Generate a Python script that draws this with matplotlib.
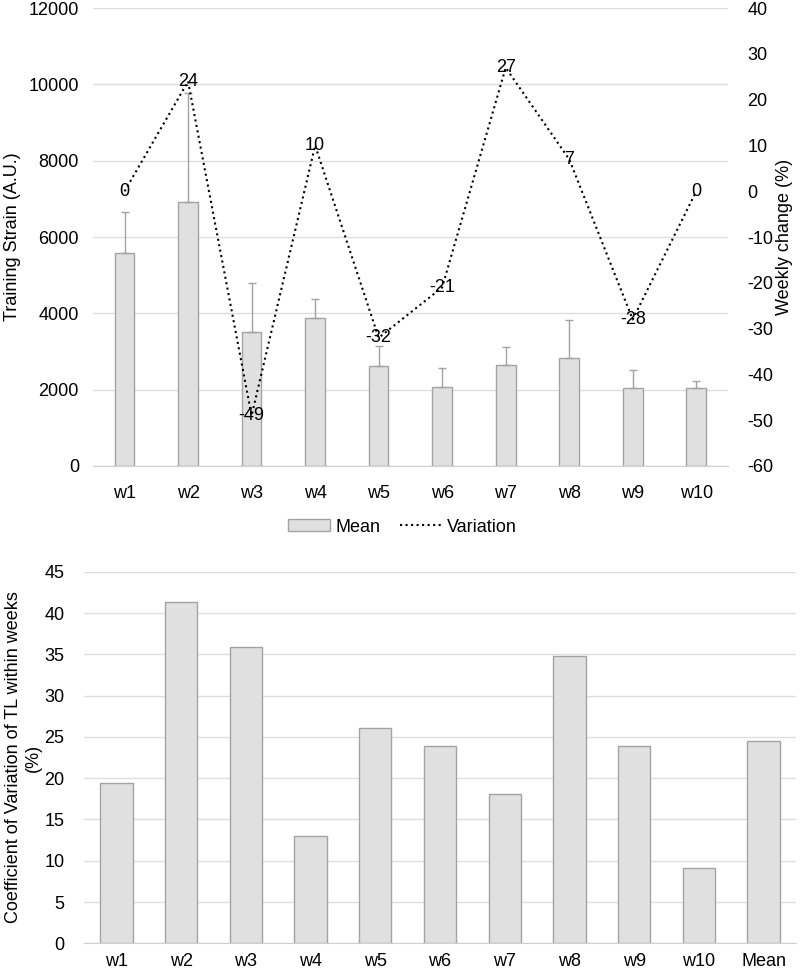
import matplotlib.pyplot as plt
import numpy as np

plt.rcParams['font.family'] = ['Liberation Sans', 'DejaVu Sans']
plt.rcParams['axes.unicode_minus'] = False

weeks = ['w1', 'w2', 'w3', 'w4', 'w5', 'w6', 'w7', 'w8', 'w9', 'w10']
strain_mean = [5580, 6920, 3520, 3870, 2630, 2080, 2650, 2820, 2040, 2040]
strain_sd = [1075, 2845, 1265, 500, 520, 490, 480, 1005, 480, 190]
variation = [0, 24, -49, 10, -32, -21, 27, 7, -28, 0]

cv_labels = ['w1', 'w2', 'w3', 'w4', 'w5', 'w6', 'w7', 'w8', 'w9', 'w10', 'Mean']
cv_values = [19.4, 41.3, 35.9, 13.0, 26.1, 23.9, 18.1, 34.8, 23.9, 9.1, 24.5]

bar_fill = '#e0e0e0'
bar_edge = '#a3a3a3'
grid_col = '#dedede'
fs = 13

fig = plt.figure(figsize=(8, 9.74), dpi=100)

# top chart: mean strain with SD + weekly change
ax = fig.add_axes([0.116, 0.5216, 0.794, 0.470])
x = np.arange(len(weeks))
ax.bar(x, strain_mean, width=0.31, color=bar_fill, edgecolor=bar_edge, linewidth=1,
       yerr=[np.zeros(len(x)), strain_sd], error_kw=dict(ecolor=bar_edge, elinewidth=1, capsize=3, capthick=1),
       label='Mean', zorder=2)
ax.set_xlim(-0.5, len(weeks) - 0.5)
ax.set_ylim(0, 12000)
ax.set_yticks(range(0, 12001, 2000))
ax.set_xticks(x)
ax.set_xticklabels(weeks)
ax.grid(axis='y', color=grid_col, linewidth=1, zorder=0)
ax.set_axisbelow(True)
for s in ['top', 'right', 'left']:
    ax.spines[s].set_visible(False)
ax.spines['bottom'].set_color('#d0d0d0')
ax.tick_params(length=0, labelsize=fs, pad=14)
ax.tick_params(axis='y', pad=10)
ax.set_ylabel('Training Strain (A.U.)', fontsize=fs, labelpad=5)

ax2 = ax.twinx()
line, = ax2.plot(x, variation, color='black', linestyle=':', linewidth=1.5, label='Variation')
ax2.set_ylim(-60, 40)
ax2.set_yticks(range(-60, 41, 10))
for s in ax2.spines.values():
    s.set_visible(False)
ax2.tick_params(length=0, labelsize=fs, pad=14)
ax2.set_ylabel('Weekly change (%)', fontsize=fs, labelpad=2)
for xi, v in zip(x, variation):
    ax2.text(xi, v, str(v), ha='center', va='center', fontsize=fs)

h1, l1 = ax.get_legend_handles_labels()
fig.legend(h1 + [line], l1 + ['Variation'], loc='center', bbox_to_anchor=(0.503, 1 - 527 / 974),
           ncol=2, frameon=False, fontsize=fs, handlelength=2.3, handleheight=0.6,
           handletextpad=0.3, columnspacing=1.1)

# bottom chart: coefficient of variation
bx = fig.add_axes([0.105, 0.0315, 0.89, 0.3815])
x2 = np.arange(len(cv_labels))
bx.bar(x2, cv_values, width=0.5, color=bar_fill, edgecolor=bar_edge, linewidth=1, zorder=2)
bx.set_xlim(-0.5, len(cv_labels) - 0.5)
bx.set_ylim(0, 45)
bx.set_yticks(range(0, 46, 5))
bx.set_xticks(x2)
bx.set_xticklabels(cv_labels)
bx.grid(axis='y', color=grid_col, linewidth=1, zorder=0)
bx.set_axisbelow(True)
for s in ['top', 'right', 'left']:
    bx.spines[s].set_visible(False)
bx.spines['bottom'].set_color('#d0d0d0')
bx.tick_params(length=0, labelsize=fs)
bx.tick_params(axis='x', pad=7)
bx.tick_params(axis='y', pad=14)
bx.set_ylabel('Coefficient of Variation of TL within weeks\n(%)', fontsize=fs, labelpad=2)

fig.savefig('out.png', dpi=100)
